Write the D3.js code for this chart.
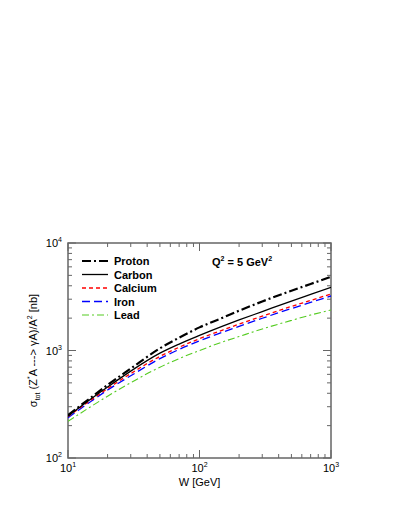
<!DOCTYPE html>
<html><head><meta charset="utf-8">
<script src="https://cdn.jsdelivr.net/npm/d3@7"></script>
<style>body{margin:0;background:#fff}svg{display:block}text{font-family:"Liberation Sans",Arial,sans-serif}</style>
</head><body><div id="chart"></div>
<script>
const W = [10, 15, 20, 30, 50, 70, 100, 150, 200, 300, 500, 700, 1000];
const proton  = [251, 366, 478, 679, 1047, 1315, 1641, 2018, 2344, 2858, 3597, 4159, 4853];
const carbon  = [245, 355, 457, 643, 944, 1148, 1380, 1683, 1923, 2301, 2884, 3327, 3873];
const calcium = [243, 347, 442, 610, 881, 1072, 1288, 1549, 1758, 2089, 2570, 2924, 3357];
const iron    = [237, 337, 429, 582, 839, 1023, 1230, 1479, 1679, 1995, 2455, 2799, 3214];
const lead    = [219, 302, 376, 501, 700, 841, 1000, 1202, 1349, 1585, 1905, 2138, 2382];
const seriesNames = ["Proton", "Carbon", "Calcium", "Iron", "Lead"];
const xTickLabels = ["1", "2", "3"];
const yTickLabels = ["2", "3", "4"];

const styles = {
  Proton:  {color:"#000", width:2.2, dash:"9,3,2,3"},
  Carbon:  {color:"#000", width:1.3, dash:null},
  Calcium: {color:"#ff0000", width:1.3, dash:"4,3"},
  Iron:    {color:"#0000ff", width:1.3, dash:"8,4"},
  Lead:    {color:"#55cc22", width:1.1, dash:"7,3,2,3"}
};
const data = {Proton:proton, Carbon:carbon, Calcium:calcium, Iron:iron, Lead:lead};

const svg = d3.select("#chart").append("svg").attr("width",400).attr("height",517);
const L=68, R=331, T=243, B=458;
const x = d3.scaleLog().domain([10,1000]).range([L,R]);
const y = d3.scaleLog().domain([100,10000]).range([B,T]);

const frame = "#666";
const g = svg.append("g");
function minorVals(lo, hi){ const v=[]; for(let p=lo;p<hi;p*=10) for(let k=2;k<=9;k++) v.push(p*k); return v; }
const xMaj=[10,100,1000], yMaj=[100,1000,10000];
minorVals(10,1000).forEach(v=>{
  g.append("line").attr("x1",x(v)).attr("x2",x(v)).attr("y1",B).attr("y2",B-4).attr("stroke",frame);
  g.append("line").attr("x1",x(v)).attr("x2",x(v)).attr("y1",T).attr("y2",T+4).attr("stroke",frame);
});
xMaj.forEach(v=>{
  g.append("line").attr("x1",x(v)).attr("x2",x(v)).attr("y1",B).attr("y2",B-8).attr("stroke",frame);
  g.append("line").attr("x1",x(v)).attr("x2",x(v)).attr("y1",T).attr("y2",T+8).attr("stroke",frame);
});
minorVals(100,10000).forEach(v=>{
  g.append("line").attr("y1",y(v)).attr("y2",y(v)).attr("x1",L).attr("x2",L+4).attr("stroke",frame);
  g.append("line").attr("y1",y(v)).attr("y2",y(v)).attr("x1",R).attr("x2",R-4).attr("stroke",frame);
});
yMaj.forEach(v=>{
  g.append("line").attr("y1",y(v)).attr("y2",y(v)).attr("x1",L).attr("x2",L+8).attr("stroke",frame);
  g.append("line").attr("y1",y(v)).attr("y2",y(v)).attr("x1",R).attr("x2",R-8).attr("stroke",frame);
});
svg.append("rect").attr("x",L).attr("y",T).attr("width",R-L).attr("height",B-T)
  .attr("fill","none").attr("stroke",frame).attr("stroke-width",1.5);

xMaj.forEach((v,i)=>{
  const t=svg.append("text").attr("x",x(v)).attr("y",B+14).attr("text-anchor","middle").attr("font-size",11);
  t.append("tspan").text("10");
  t.append("tspan").attr("dy",-5).attr("font-size",7).text(xTickLabels[i]);
});
yMaj.forEach((v,i)=>{
  const t=svg.append("text").attr("x",L-6).attr("y",y(v)+4).attr("text-anchor","end").attr("font-size",11);
  t.append("tspan").text("10");
  t.append("tspan").attr("dy",-5).attr("font-size",7).text(yTickLabels[i]);
});

svg.append("text").attr("x",(L+R)/2).attr("y",B+28).attr("text-anchor","middle").attr("font-size",11).text("W [GeV]");
const yl = svg.append("text").attr("transform","translate(37,"+((T+B)/2)+") rotate(-90)").attr("text-anchor","middle").attr("font-size",11);
yl.append("tspan").text("σ");
yl.append("tspan").attr("dy",3).attr("font-size",7).text("tot");
yl.append("tspan").attr("dy",-3).text(" (Z");
yl.append("tspan").attr("dy",-5).attr("font-size",7).text("*");
yl.append("tspan").attr("dy",5).text("A ---> γA)/A");
yl.append("tspan").attr("dy",-5).attr("font-size",7).text("2");
yl.append("tspan").attr("dy",5).text(" [nb]");

const line = d3.line().x((d,i)=>x(W[i])).y(d=>y(d)).curve(d3.curveMonotoneX);
svg.append("clipPath").attr("id","c").append("rect").attr("x",L).attr("y",T).attr("width",R-L).attr("height",B-T);
seriesNames.slice().reverse().forEach(n=>{
  const s=styles[n];
  svg.append("path").attr("d",line(data[n])).attr("fill","none").attr("stroke",s.color)
    .attr("stroke-width",s.width).attr("stroke-dasharray",s.dash).attr("clip-path","url(#c)");
});

seriesNames.forEach((n,i)=>{
  const s=styles[n], yy=261+i*13.5;
  svg.append("line").attr("x1",82).attr("x2",108).attr("y1",yy).attr("y2",yy).attr("stroke",s.color)
    .attr("stroke-width",s.width).attr("stroke-dasharray",s.dash);
  svg.append("text").attr("x",114).attr("y",yy+4).attr("font-size",11).attr("font-weight","bold").text(n);
});
const q = svg.append("text").attr("x",212).attr("y",266).attr("font-size",11).attr("font-weight","bold");
q.append("tspan").text("Q");
q.append("tspan").attr("dy",-5).attr("font-size",7).text("2");
q.append("tspan").attr("dy",5).text(" = 5 GeV");
q.append("tspan").attr("dy",-5).attr("font-size",7).text("2");
</script></body></html>
